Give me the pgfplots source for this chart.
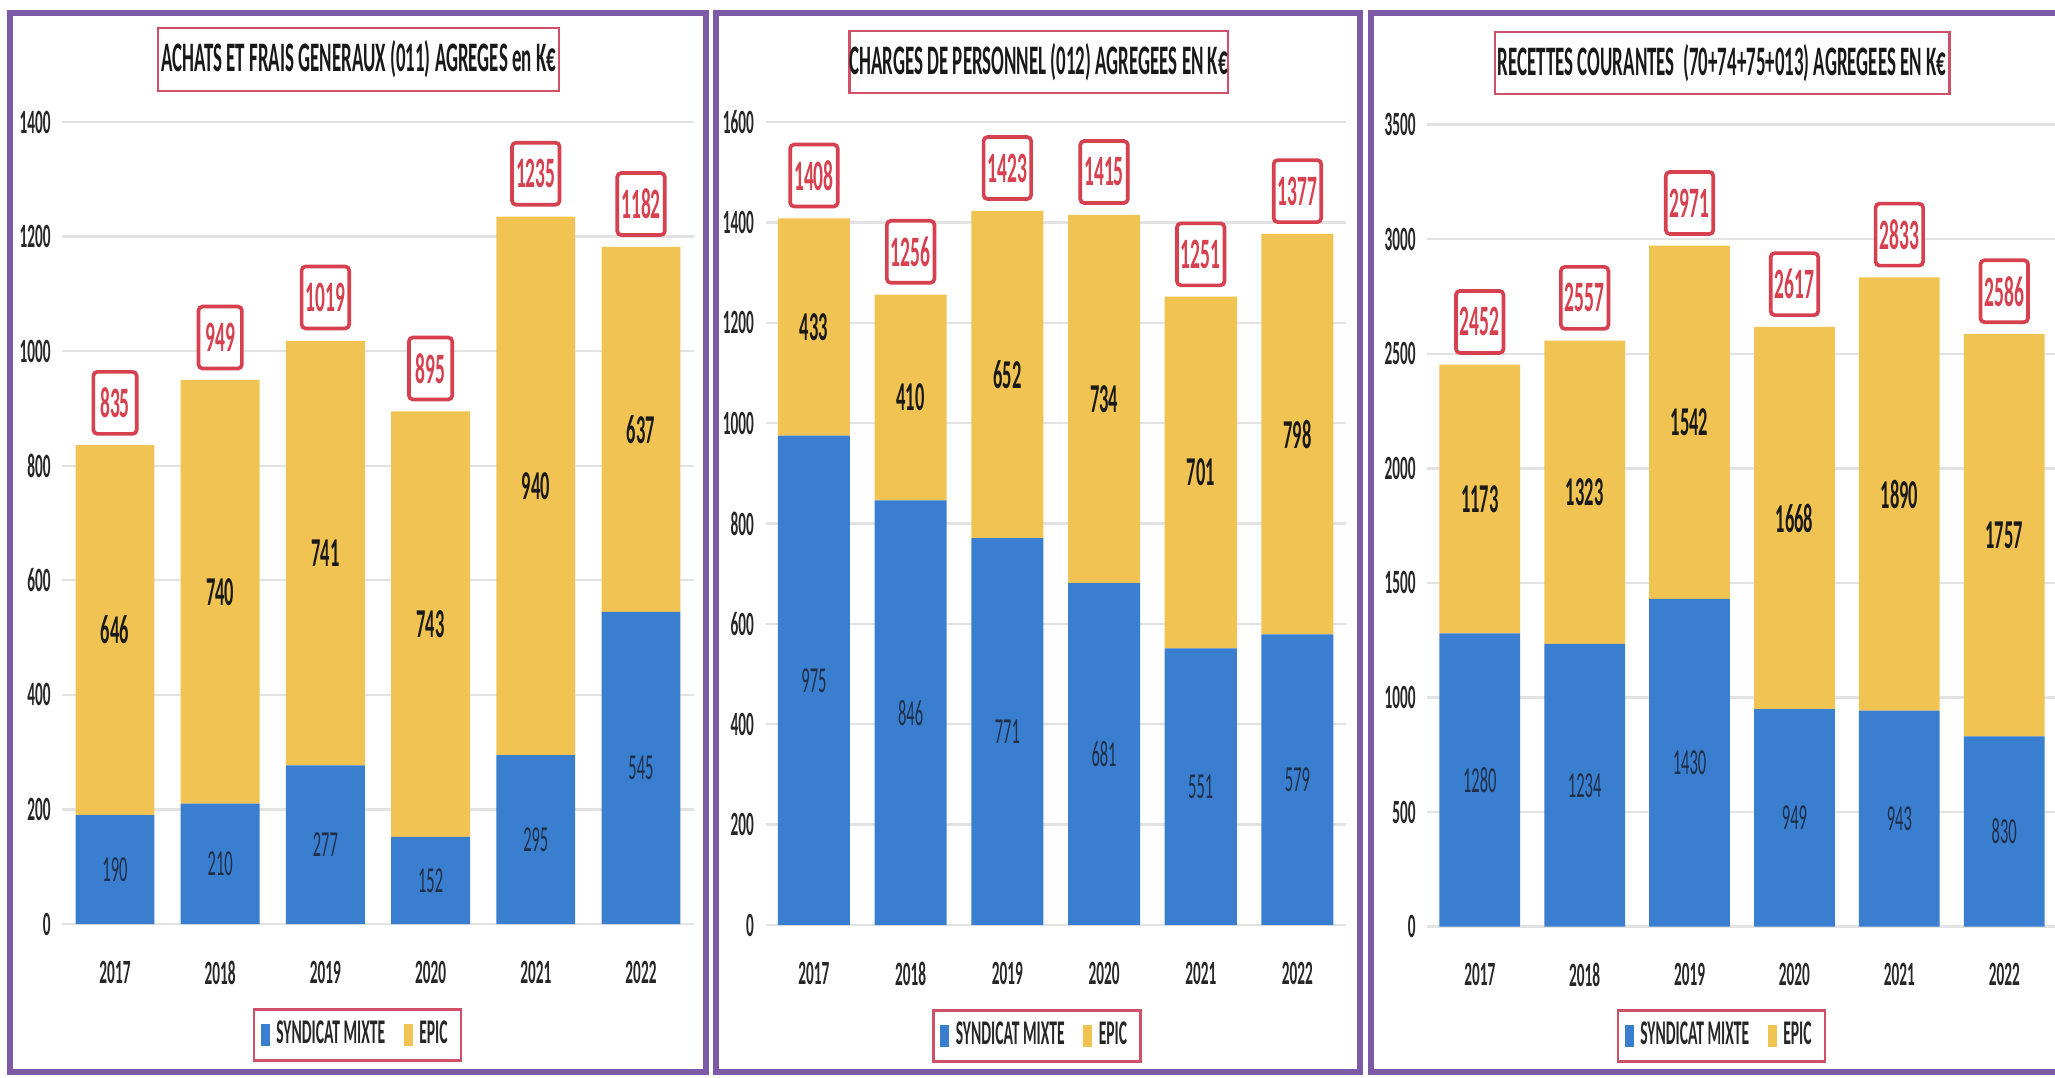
\documentclass[border=0pt]{standalone}
\usepackage{pgfplots}
\pgfplotsset{compat=1.18}
\usepackage{pgfplotstable}
\usepackage{fontspec}
\setmainfont{Carlito}
\newfontfamily\cf[FakeStretch=0.45]{Carlito}
\definecolor{sblue}{HTML}{3A7ECF}
\definecolor{syel}{HTML}{F1C352}
\definecolor{cframe}{HTML}{7D5AA5}
\definecolor{ctred}{HTML}{D6404F}
\definecolor{clred}{HTML}{D0506A}
\definecolor{cblab}{HTML}{1F2F48}
\definecolor{cgrid}{HTML}{E2E2E2}

\pgfplotstableread{
x blue epic total
0 190 646 835
1 210 740 949
2 277 741 1019
3 152 743 895
4 295 940 1235
5 545 637 1182
}\dataA
\pgfplotstableread{
x blue epic total
0 975 433 1408
1 846 410 1256
2 771 652 1423
3 681 734 1415
4 551 701 1251
5 579 798 1377
}\dataB
\pgfplotstableread{
x blue epic total
0 1280 1173 2452
1 1234 1323 2557
2 1430 1542 2971
3 949 1668 2617
4 943 1890 2833
5 830 1757 2586
}\dataC

\pgfplotsset{
  base/.style={scale only axis, anchor=south west, xmin=-0.5, xmax=5.5, ymin=0, clip=false},
  barax/.style={base, ybar stacked,
    axis line style={draw=none}, tick style={draw=none},
    ymajorgrids, grid style={cgrid, line width=0.7pt},
    xtick={0,...,5}, xticklabels={2017,2018,2019,2020,2021,2022},
    scaled y ticks=false,
    /pgf/number format/1000 sep={},
    /pgf/number format/assume math mode=true,
    ticklabel style={font=\cf\bfseries\fontsize{10.2}{12}\selectfont, text=black!85},
    xticklabel style={yshift=-7.5pt},
    legend columns=2,
    legend style={draw=clred, line width=0.8pt, anchor=center, fill=white,
      font=\cf\bfseries\fontsize{10.4}{12}\selectfont, text=black!85,
      inner xsep=2pt, inner ysep=1.5pt,
      /tikz/every even column/.append style={column sep=3.5pt}},
    legend image code/.code={\fill[##1] (0pt,-3.3pt) rectangle (2.7pt,3.3pt);},
  },
  labax/.style={base, hide axis},
  blab/.style={draw=none, nodes near coords, point meta=explicit symbolic,
    every node near coord/.style={anchor=center, inner sep=0pt, text=cblab,
      font=\cf\fontsize{11}{12}\selectfont}},
  ylab/.style={draw=none, nodes near coords, point meta=explicit symbolic,
    every node near coord/.style={anchor=center, inner sep=0pt, text=black!90,
      font=\cf\bfseries\fontsize{12.3}{13}\selectfont}},
  tlab/.style={draw=none, nodes near coords, point meta=explicit symbolic,
    every node near coord/.style={anchor=south, yshift=3pt, draw=ctred, line width=1.1pt,
      rounded corners=1.2pt, fill=white, text=ctred, inner xsep=1.2pt, inner ysep=0pt,
      minimum height=18.6pt, minimum width=13pt,
      font=\cf\bfseries\fontsize{13}{14}\selectfont}},
}
\tikzset{titlebox/.style={draw=clred, line width=0.7pt, fill=white, inner sep=0pt,
  font=\cf\bfseries\fontsize{12.6}{14}\selectfont, text=black!90}}

\begin{document}
\begin{tikzpicture}[x=0.3pt,y=0.3pt]
\fill[white] (0,0) rectangle (2055,1077);
\path[use as bounding box] (0,0) rectangle (2055,1077);
\draw[cframe, line width=1.8pt] (10,{1077-13}) rectangle (706,{1077-1072});
\draw[cframe, line width=1.8pt] (716,{1077-13}) rectangle (1360,{1077-1072});
\draw[cframe, line width=1.8pt] (1371,{1077-13}) rectangle (2070,{1077-1072});

% ---------- Panel 1
\begin{axis}[barax, at={(18.72pt,45.9pt)}, width=189.36pt, height=240.6pt,
  ymax=1400, ytick={0,200,...,1400}, bar width=0.75,
  legend style={at={(0.4675,-0.1384)}}]
\addplot[fill=sblue, draw=none] table[x=x, y=blue]{\dataA};
\addplot[fill=syel, draw=none] table[x=x, y=epic]{\dataA};
\legend{SYNDICAT MIXTE, EPIC}
\end{axis}
\begin{axis}[labax, at={(18.72pt,45.9pt)}, width=189.36pt, height=240.6pt, ymax=1400]
\addplot[blab] table[x=x, y expr=\thisrow{blue}/2, meta=blue]{\dataA};
\addplot[ylab] table[x=x, y expr=\thisrow{blue}+\thisrow{epic}/2, meta=epic]{\dataA};
\addplot[tlab] table[x=x, y=total, meta=total]{\dataA};
\end{axis}

% ---------- Panel 2
\begin{axis}[barax, at={(229.68pt,45.6pt)}, width=174.06pt, height=240.9pt,
  ymax=1600, ytick={0,200,...,1600}, bar width=0.745,
  legend style={at={(0.4678,-0.138)}}]
\addplot[fill=sblue, draw=none] table[x=x, y=blue]{\dataB};
\addplot[fill=syel, draw=none] table[x=x, y=epic]{\dataB};
\legend{SYNDICAT MIXTE, EPIC}
\end{axis}
\begin{axis}[labax, at={(229.68pt,45.6pt)}, width=174.06pt, height=240.9pt, ymax=1600]
\addplot[blab] table[x=x, y expr=\thisrow{blue}/2, meta=blue]{\dataB};
\addplot[ylab] table[x=x, y expr=\thisrow{blue}+\thisrow{epic}/2, meta=epic]{\dataB};
\addplot[tlab] table[x=x, y=total, meta=total]{\dataB};
\end{axis}

% ---------- Panel 3
\begin{axis}[barax, at={(428.19pt,45.12pt)}, width=188.82pt, height=240.6pt,
  ymax=3500, ytick={0,500,...,3500}, bar width=0.77,
  legend style={at={(0.4674,-0.1364)}}]
\addplot[fill=sblue, draw=none] table[x=x, y=blue]{\dataC};
\addplot[fill=syel, draw=none] table[x=x, y=epic]{\dataC};
\legend{SYNDICAT MIXTE, EPIC}
\end{axis}
\begin{axis}[labax, at={(428.19pt,45.12pt)}, width=188.82pt, height=240.6pt, ymax=3500]
\addplot[blab] table[x=x, y expr=\thisrow{blue}/2, meta=blue]{\dataC};
\addplot[ylab] table[x=x, y expr=\thisrow{blue}+\thisrow{epic}/2, meta=epic]{\dataC};
\addplot[tlab] table[x=x, y=total, meta=total]{\dataC};
\end{axis}

% ---------- Titles
\node[titlebox, minimum width=120.3pt, minimum height=18.9pt] at (358.5,{1077-59.5})
  {ACHATS ET FRAIS GENERAUX (011) AGREGES en K€};
\node[titlebox, minimum width=106.2pt, minimum height=18.6pt] at (1038.6,{1077-62})
  {CHARGES DE PERSONNEL (012) AGREGEES EN K€};
\node[titlebox, minimum width=136.4pt, minimum height=18.6pt] at (1722,{1077-63})
  {RECETTES COURANTES\ \ (70+74+75+013) AGREGEES EN K€};
\end{tikzpicture}
\end{document}
